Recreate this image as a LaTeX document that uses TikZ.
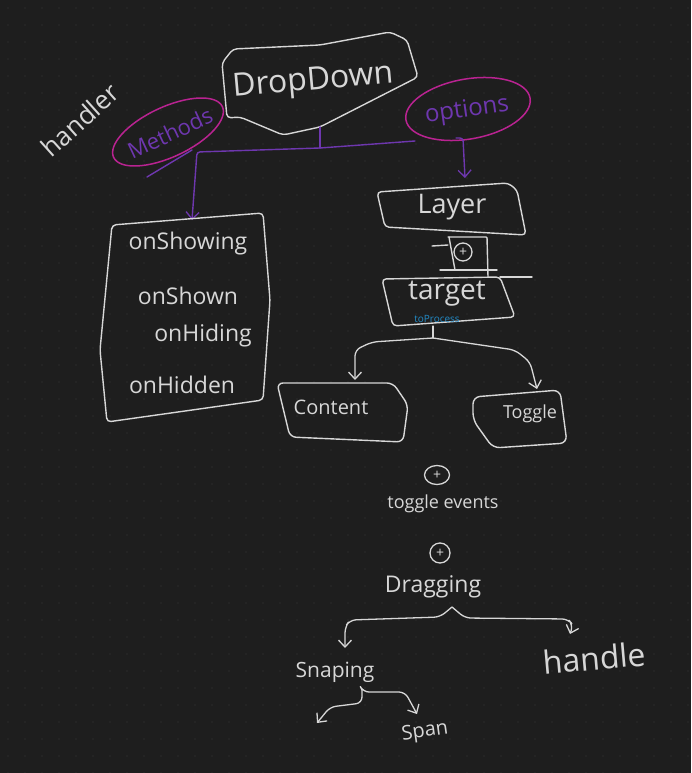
\documentclass[tikz,border=0pt]{standalone}
\usepackage{fontspec}
\setmainfont{Open Sans}
\usetikzlibrary{arrows.meta,calc,shapes.geometric}
\definecolor{bg}{RGB}{30,30,30}
\definecolor{dotc}{RGB}{44,44,44}
\definecolor{ink}{RGB}{215,215,215}
\definecolor{vio}{RGB}{110,55,175}
\definecolor{mag}{RGB}{185,35,145}
\definecolor{cyanink}{RGB}{35,140,200}
\begin{document}
\begin{tikzpicture}[x=1pt,y=-1pt,
  sketch/.style={draw=ink, line width=1.4pt, line join=round, line cap=round, rounded corners=4pt},
  wire/.style={draw=ink, line width=1.3pt, line join=round, line cap=round, rounded corners=6pt},
  vwire/.style={draw=vio, line width=1.4pt, line join=round, line cap=round, rounded corners=3pt},
  barb/.style={-{Straight Barb[length=7pt,width=13pt,line width=1.3pt]}},
  lbl/.style={text=ink, inner sep=1pt},
  fs/.style={font=\fontsize{#1}{#1}\selectfont}]
\fill[bg] (0,0) rectangle (691,773);
\useasboundingbox (0,0) rectangle (691,773);
\foreach \i in {0,...,40} \foreach \j in {0,...,45} \fill[dotc] (\i*17+8,\j*17+8) circle (0.8pt);

% DropDown
\draw[sketch] (222,63) -- (233,49) -- (320,45) -- (390,32) -- (407,40) -- (418,77) -- (320,127) -- (283,135) -- (240,117) -- (227,118) -- cycle;
\node[lbl, fs=32, rotate=5] (dd) at (313,82) {DropDown};
\coordinate (ddb) at (320,127);
\coordinate (jn) at (320,148);

% handler
\node[lbl, fs=26, rotate=42] (handler) at (80,120) {handler};

% Methods ellipse
\draw[mag, line width=1.5pt, rotate around={25:(168,132)}] (168,132) ellipse (60pt and 25pt);
\node[text=vio, inner sep=0pt, fs=22, rotate=25] (methods) at (170,133) {Methods};
\draw[vwire] (147,177) -- (192,150);

% options ellipse
\draw[mag, line width=1.5pt, rotate around={10:(468,109)}] (468,109) ellipse (63pt and 30pt);
\node[text=vio, inner sep=0pt, fs=24, rotate=8] (options) at (467,111) {options};

% Layer
\draw[sketch] (377,192) -- (508,183) -- (517,190) -- (526,235) -- (385,227) -- cycle;
\node[lbl, fs=27] (layer) at (452,207) {Layer};
\coordinate (layertop) at (465,178);

% purple connectors
\draw[vwire] (ddb) -- (jn);
\draw[vwire, barb] (jn) -- (197,152) -- (192,220);
\draw[vwire] (jn) -- (415,141);
\draw[vwire, barb] (456,138) -- (463,138) -- (layertop);

% plus between layer and target
\draw[sketch, rounded corners=1pt] (448,237) -- (487,237) -- (488,277);
\draw[sketch] (449,237) -- (455,270);
\draw[sketch] (432,246) -- (448,245);
\draw[sketch] (440,270) -- (497,270);
\node[draw=ink, line width=1.3pt, circle, minimum size=18pt, inner sep=0pt, fs=14, text=ink] (plus1) at (463,252) {+};

% target
\draw[sketch] (382,279) -- (500,277) -- (515,317) -- (393,326) -- cycle;
\draw[sketch] (500,277) -- (532,277);
\node[lbl, fs=28] (target) at (447,294) {target};
\node[text=cyanink, inner sep=0pt, fs=10] (toproc) at (437,319) {toProcess};
\coordinate (tb) at (433,326);
\coordinate (tj) at (433,338);

% Methods list box
\draw[sketch] (112,225) -- (263,213) -- (270,300) -- (263,400) -- (107,422) -- (100,350) -- cycle;
\node[lbl, fs=23] (m1) at (188,244) {onShowing};
\node[lbl, fs=23] (m2) at (188,296) {onShown};
\node[lbl, fs=23] (m3) at (203,336) {onHiding};
\node[lbl, fs=23] (m4) at (182,385) {onHidden};

% Content
\draw[sketch, rounded corners=6pt] (277,383) -- (393,383) -- (408,405) -- (403,442) -- (290,437) -- cycle;
\node[lbl, fs=20] (content) at (331,407) {Content};
% Toggle
\draw[sketch, rounded corners=7pt] (473,397) -- (560,390) -- (567,443) -- (493,448) -- (473,420) -- cycle;
\node[lbl, fs=18] (toggle) at (530,414) {Toggle};

\draw[wire] (tb) -- (tj);
\draw[wire, barb] (tj) -- (372,342) -- (355,350) -- (355,380);
\draw[wire, barb] (tj) -- (515,350) -- (530,362) -- (537,389);

% toggle events
\node[draw=ink, line width=1.3pt, ellipse, minimum width=25pt, minimum height=19pt, inner sep=0pt, fs=14, text=ink] (plus2) at (437,475) {+};
\node[lbl, fs=18] (tev) at (443,504) {toggle events};

% Dragging
\node[draw=ink, line width=1.3pt, circle, minimum size=20pt, inner sep=0pt, fs=14, text=ink] (plus3) at (440,553) {+};
\node[lbl, fs=23] (drag) at (433,587) {Dragging};
\coordinate (dj) at (452,607);
\draw[wire, barb] (dj) -- (440,617) -- (350,620) -- (345,627) -- (345,648);
\draw[wire, barb] (dj) -- (465,618) -- (568,619) -- (573,625) -- (570,634);
\node[lbl, fs=21] (snap) at (335,672) {Snaping};
\node[lbl, fs=32, rotate=5] (handle) at (594,658) {handle};
\coordinate (sj) at (362,690);
\draw[wire, barb] (sj) -- (362,703) -- (330,707) -- (317,723);
\draw[wire, barb] (sj) -- (363,692) -- (405,692) -- (417,714);
\node[lbl, fs=20, rotate=8] (span) at (425,732) {Span};
\end{tikzpicture}
\end{document}
